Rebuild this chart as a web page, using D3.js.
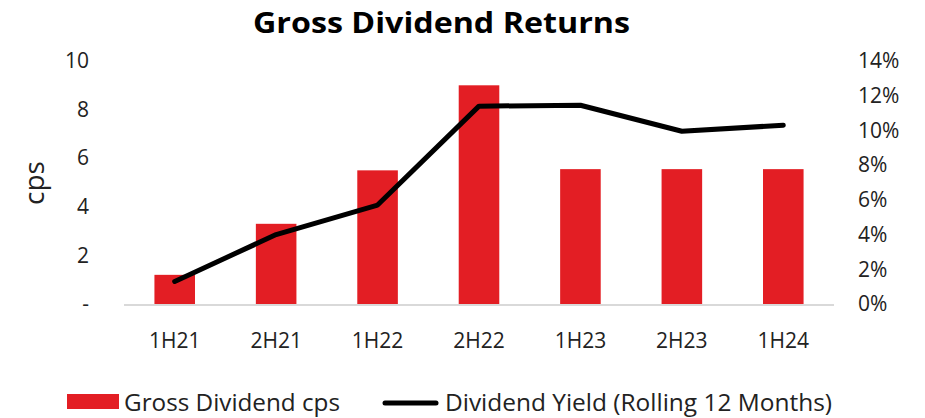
<!DOCTYPE html>
<html>
   <head>
      <title>Gross Dividend Returns</title>
      <script src="https://cdn.jsdelivr.net/npm/d3@7/dist/d3.min.js"></script>
   </head>
   <style>
      body {
         margin: 0px;
         overflow: hidden;
         background: #fff;
      }
      text {
         font-family: "Open Sans", "Noto Sans", sans-serif;
         fill: #222;
      }
   </style>
   <body>
      <svg width="925" height="418"></svg>
      <script>
         const periods = ["1H21", "2H21", "1H22", "2H22", "1H23", "2H23", "1H24"];
         const dividendCps = [1.2, 3.3, 5.5, 9.0, 5.55, 5.55, 5.55];
         const dividendYield = [1.3, 4.0, 5.7, 11.4, 11.45, 9.95, 10.3];
         const leftTicks = [0, 2, 4, 6, 8, 10];
         const rightTicks = [0, 2, 4, 6, 8, 10, 12, 14];

         const svg = d3.select("svg");

         const x = d3.scaleBand().domain(periods).range([124, 834]).paddingInner(0.6).paddingOuter(0.3);
         const yLeft = d3.scaleLinear().domain([0, 10]).range([304, 61]);
         const yRight = d3.scaleLinear().domain([0, 14]).range([304, 61]);

         // title
         svg.append("text")
            .attr("x", 253)
            .attr("y", 33)
            .attr("textLength", 377)
            .attr("lengthAdjust", "spacingAndGlyphs")
            .style("font-size", "28px")
            .style("font-weight", "bold")
            .style("fill", "#000")
            .text("Gross Dividend Returns");

         // bars
         svg.selectAll("rect.bar")
            .data(dividendCps)
            .enter()
            .append("rect")
            .attr("class", "bar")
            .attr("x", (d, i) => x(periods[i]))
            .attr("width", x.bandwidth())
            .attr("y", (d) => yLeft(d))
            .attr("height", (d) => yLeft(0) - yLeft(d))
            .attr("fill", "#e31e24");

         // x axis line
         svg.append("line")
            .attr("x1", 124)
            .attr("x2", 834)
            .attr("y1", yLeft(0) + 1)
            .attr("y2", yLeft(0) + 1)
            .attr("stroke", "#d9d9d9")
            .attr("stroke-width", 2);

         // yield line
         const line = d3.line()
            .x((d, i) => x(periods[i]) + x.bandwidth() / 2)
            .y((d) => yRight(d));

         svg.append("path")
            .datum(dividendYield)
            .attr("d", line)
            .attr("fill", "none")
            .attr("stroke", "#000")
            .attr("stroke-width", 5)
            .attr("stroke-linejoin", "round")
            .attr("stroke-linecap", "round");

         // left axis
         const leftAxis = svg.append("g")
            .attr("transform", "translate(89,0)")
            .call(d3.axisLeft(yLeft).tickValues(leftTicks).tickSize(0).tickPadding(0)
               .tickFormat((d) => (d === 0 ? "-" : d)));
         leftAxis.select(".domain").remove();
         leftAxis.selectAll("text").style("font-size", "21px").style("font-family", null).attr("fill", "#222");

         // right axis
         const rightAxis = svg.append("g")
            .attr("transform", "translate(858,0)")
            .call(d3.axisRight(yRight).tickValues(rightTicks).tickSize(0).tickPadding(0)
               .tickFormat((d) => d + "%"));
         rightAxis.select(".domain").remove();
         rightAxis.selectAll("text").style("font-size", "21px").style("font-family", null).attr("fill", "#222");

         // x labels
         const xAxis = svg.append("g")
            .attr("transform", "translate(0,333)")
            .call(d3.axisBottom(x).tickSize(0).tickPadding(0));
         xAxis.select(".domain").remove();
         xAxis.selectAll("text").style("font-size", "21px").style("font-family", null).attr("fill", "#222");

         // y axis title
         svg.append("text")
            .attr("transform", "translate(44,183) rotate(-90)")
            .attr("text-anchor", "middle")
            .style("font-size", "28px")
            .text("cps");

         // legend
         svg.append("rect")
            .attr("x", 67)
            .attr("y", 394)
            .attr("width", 52)
            .attr("height", 15)
            .attr("fill", "#e31e24");
         svg.append("text")
            .attr("x", 124)
            .attr("y", 411)
            .attr("textLength", 216)
            .attr("lengthAdjust", "spacingAndGlyphs")
            .style("font-size", "24px")
            .text("Gross Dividend cps");

         svg.append("line")
            .attr("x1", 385)
            .attr("x2", 436)
            .attr("y1", 403)
            .attr("y2", 403)
            .attr("stroke", "#000")
            .attr("stroke-width", 5)
            .attr("stroke-linecap", "round");
         svg.append("text")
            .attr("x", 445)
            .attr("y", 411)
            .attr("textLength", 387)
            .attr("lengthAdjust", "spacingAndGlyphs")
            .style("font-size", "24px")
            .text("Dividend Yield (Rolling 12 Months)");
      </script>
   </body>
</html>
